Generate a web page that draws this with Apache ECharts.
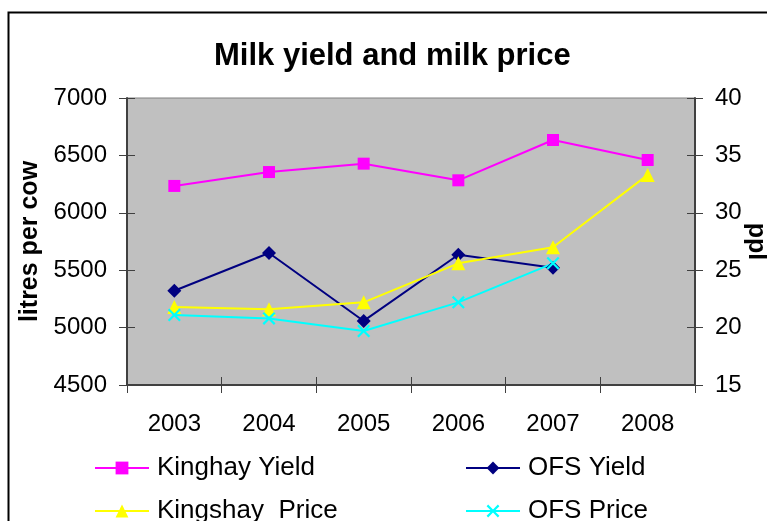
<!DOCTYPE html>
<html><head><meta charset="utf-8">
<script src="https://cdn.jsdelivr.net/npm/echarts@6/dist/echarts.min.js"></script>
<style>html,body{margin:0;padding:0;background:#fff}#c{width:767px;height:521px}</style>
</head><body><div id="c"></div>
<script>
var years = ['2003','2004','2005','2006','2007','2008'];
var kinghayYield = [6234, 6355, 6428, 6283, 6634, 6460];
var ofsYield = [5321, 5650, 5058, 5635, 5522, null];
var kingshayPrice = [21.8, 21.6, 22.2, 25.6, 27.0, 33.3];
var ofsPrice = [21.1, 20.8, 19.7, 22.2, 25.6, null];
var leftTicks = {min: 4500, max: 7000, interval: 500};
var rightTicks = {min: 15, max: 40, interval: 5};

var FONT = "'Liberation Sans', Arial, sans-serif";
var crossSym = 'path://M0,1.2L1.2,0L5,3.8L8.8,0L10,1.2L6.2,5L10,8.8L8.8,10L5,6.2L1.2,10L0,8.8L3.8,5Z';
var axisCol = '#404040';

var chart = echarts.init(document.getElementById('c'));
function mkSeries(name, data, color, sym, size, yIdx){
  return {name:name, type:'line', data:data, yAxisIndex:yIdx, xAxisIndex:0,
    symbol:sym, symbolSize:size, showSymbol:true, connectNulls:false,
    lineStyle:{color:color, width:2}, itemStyle:{color:color, borderWidth:0},
    emphasis:{disabled:true}, animation:false};
}
function mkLegend(name, left, top){
  return {data:[name], orient:'horizontal', left:left, top:top,
    itemWidth:54, itemHeight:16, selectedMode:false,
    textStyle:{fontFamily:FONT, fontSize:26, color:'#000', padding:[0,0,0,3]}};
}
chart.setOption({
  animation:false,
  textStyle:{fontFamily:FONT},
  graphic:[{type:'rect', left:6, top:10, shape:{width:820, height:600},
    style:{fill:'none', stroke:'#000', lineWidth:2}, z:-10}],
  title:{text:'Milk yield and milk price', left:209, top:36,
    textStyle:{fontFamily:FONT, fontSize:31, fontWeight:'bold', color:'#000'}},
  grid:{left:127, right:72, top:98, bottom:136, show:true, backgroundColor:'#C0C0C0',
    borderColor:'#808080', borderWidth:1, containLabel:false, outerBoundsMode:'none'},
  legend:[
    mkLegend('Kinghay Yield', 89, 450),
    mkLegend('Kingshay  Price', 89, 493),
    mkLegend('OFS Yield', 460, 450),
    mkLegend('OFS Price', 460, 493)
  ],
  xAxis:[
    {type:'category', data:years, position:'bottom', boundaryGap:true,
     axisLine:{lineStyle:{color:axisCol, width:2}},
     axisTick:{show:true, length:8, lineStyle:{color:axisCol, width:1}},
     axisLabel:{fontFamily:FONT, fontSize:24, color:'#000', margin:27},
     splitLine:{show:false}},
    {type:'category', data:years, position:'bottom', boundaryGap:true,
     axisLine:{show:false}, axisLabel:{show:false},
     axisTick:{show:true, inside:true, length:8, lineStyle:{color:axisCol, width:1}},
     splitLine:{show:false}}
  ],
  yAxis:[
    {type:'value', position:'left', min:leftTicks.min, max:leftTicks.max, interval:leftTicks.interval,
     name:'litres per cow', nameLocation:'middle', nameGap:84, nameMoveOverlap:false,
     nameTextStyle:{fontFamily:FONT, fontSize:25, fontWeight:'bold', color:'#000'},
     axisLine:{show:true, lineStyle:{color:axisCol, width:2}},
     axisTick:{show:true, length:8, lineStyle:{color:axisCol, width:1}},
     axisLabel:{fontFamily:FONT, fontSize:24, color:'#000', margin:20,
       formatter:function(v){return String(v);}},
     splitLine:{show:false}},
    {type:'value', position:'right', min:rightTicks.min, max:rightTicks.max, interval:rightTicks.interval,
     name:'ppl', nameLocation:'middle', nameGap:48, nameRotate:-90, nameMoveOverlap:false,
     nameTextStyle:{fontFamily:FONT, fontSize:25, fontWeight:'bold', color:'#000'},
     axisLine:{show:true, lineStyle:{color:axisCol, width:2}},
     axisTick:{show:true, length:8, lineStyle:{color:axisCol, width:1}},
     axisLabel:{fontFamily:FONT, fontSize:24, color:'#000', margin:20,
       formatter:function(v){return String(v);}},
     splitLine:{show:false}},
    {type:'value', position:'left', min:leftTicks.min, max:leftTicks.max, interval:leftTicks.interval,
     axisLine:{show:false}, axisLabel:{show:false}, splitLine:{show:false},
     axisTick:{show:true, inside:true, length:8, lineStyle:{color:axisCol, width:1}}},
    {type:'value', position:'right', min:rightTicks.min, max:rightTicks.max, interval:rightTicks.interval,
     axisLine:{show:false}, axisLabel:{show:false}, splitLine:{show:false},
     axisTick:{show:true, inside:true, length:8, lineStyle:{color:axisCol, width:1}}}
  ],
  series:[
    mkSeries('Kinghay Yield', kinghayYield, '#FF00FF', 'rect', 12, 0),
    mkSeries('OFS Yield', ofsYield, '#000080', 'diamond', 14, 0),
    mkSeries('Kingshay  Price', kingshayPrice, '#FFFF00', 'triangle', 14, 1),
    mkSeries('OFS Price', ofsPrice, '#00FFFF', crossSym, 13, 1)
  ]
});
</script></body></html>
